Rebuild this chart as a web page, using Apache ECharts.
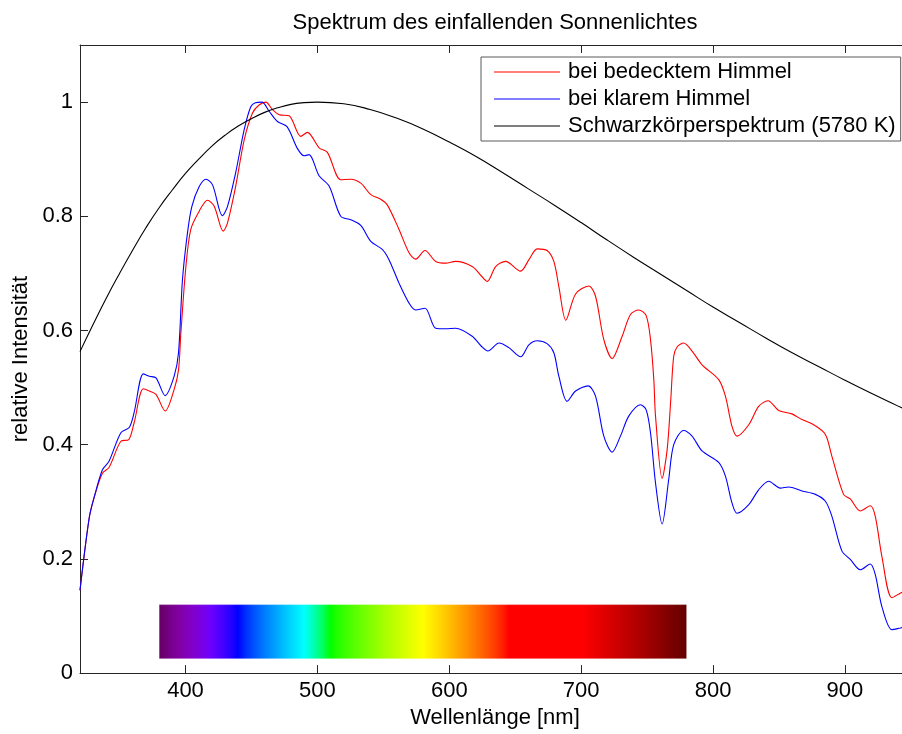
<!DOCTYPE html>
<html>
<head>
<meta charset="utf-8">
<title>Spektrum des einfallenden Sonnenlichtes</title>
<script src="https://cdn.jsdelivr.net/npm/echarts@6/dist/echarts.min.js"></script>
<style>
  html, body { margin: 0; padding: 0; background: #fff; }
  #chart { width: 902px; height: 734px; }
</style>
</head>
<body>
<div id="chart"></div>
<script>
// Wavelengths (nm) and relative intensity, overcast sky
const wlOvercast = [320, 327, 331, 337, 342, 351, 357, 361, 368, 372.5, 377.6, 384.6, 391.4, 394.7, 396.5, 400.3, 404, 410.4, 416.7, 421.7, 428.6, 431.8, 438, 444.5, 450.8, 455.8, 460.9, 465.9, 471, 478.6, 487.4, 492.4, 501.3, 507.6, 517.7, 525.3, 532.9, 540.5, 548, 553, 561.9, 569.5, 574.5, 581.6, 589.7, 597.3, 604.8, 617.4, 624.5, 628.8, 635.2, 642.7, 654.1, 660.4, 666.7, 674.2, 679.3, 683.1, 688.4, 695.8, 705.8, 710.9, 717.2, 723.5, 731.1, 737.4, 743.7, 749.3, 752.6, 755.1, 756.4, 761.4, 765.2, 768, 770.2, 773, 777.7, 784.1, 791.7, 804.3, 809.4, 814.4, 818.2, 827.1, 834.6, 841.7, 849.8, 859.8, 867.4, 876.3, 885.2, 890.1, 899, 904.1, 911.7, 919.2, 923, 928, 935.6, 942, 944];
const valOvercast = [0.145, 0.272, 0.31, 0.35, 0.36, 0.406, 0.409, 0.438, 0.498, 0.494, 0.488, 0.459, 0.497, 0.531, 0.596, 0.712, 0.777, 0.809, 0.828, 0.818, 0.774, 0.788, 0.852, 0.934, 0.981, 0.995, 1.0, 0.987, 0.978, 0.976, 0.94, 0.947, 0.92, 0.912, 0.864, 0.865, 0.858, 0.838, 0.83, 0.82, 0.777, 0.736, 0.725, 0.74, 0.721, 0.718, 0.721, 0.712, 0.695, 0.686, 0.712, 0.721, 0.704, 0.724, 0.743, 0.74, 0.721, 0.677, 0.618, 0.664, 0.678, 0.66, 0.584, 0.551, 0.59, 0.628, 0.636, 0.626, 0.584, 0.514, 0.45, 0.341, 0.391, 0.48, 0.555, 0.572, 0.578, 0.564, 0.54, 0.514, 0.485, 0.432, 0.415, 0.435, 0.467, 0.477, 0.46, 0.454, 0.444, 0.435, 0.418, 0.38, 0.313, 0.305, 0.284, 0.293, 0.275, 0.205, 0.132, 0.14, 0.142];

// Wavelengths (nm) and relative intensity, clear sky
const wlClear = [320, 327, 331, 337, 342, 351, 357.3, 361, 368, 372.5, 377.6, 384.6, 391.4, 394.7, 397.7, 401.5, 404.8, 410.4, 415.5, 420.5, 428, 431.8, 438, 444.5, 449.5, 453, 458, 463.4, 469.7, 477, 484.8, 490, 493.7, 501.3, 508.9, 517.7, 525.3, 532.9, 540.5, 549.2, 554.3, 561.9, 569.5, 574.5, 581.6, 589.7, 597.3, 604.8, 617.4, 624.5, 629.3, 637.7, 645.2, 654.1, 660.4, 666.7, 674.2, 679.3, 683.1, 689.4, 695.8, 705.3, 710.9, 717.2, 723.5, 729.8, 736.1, 745, 749.3, 752.6, 756.4, 761.4, 766.4, 770.2, 777.7, 784.1, 791.7, 804.3, 809.4, 814.4, 818.2, 827.1, 834.6, 842.2, 851, 857.3, 867.4, 877.6, 885.2, 890.1, 897.7, 904.1, 911.7, 919.2, 923, 928, 935.6, 942, 944];
const valClear = [0.145, 0.272, 0.31, 0.356, 0.371, 0.421, 0.43, 0.456, 0.524, 0.52, 0.517, 0.486, 0.52, 0.561, 0.689, 0.771, 0.817, 0.852, 0.865, 0.855, 0.801, 0.817, 0.876, 0.952, 0.992, 0.999, 1.0, 0.984, 0.966, 0.957, 0.919, 0.906, 0.908, 0.871, 0.853, 0.8, 0.794, 0.784, 0.756, 0.742, 0.724, 0.683, 0.648, 0.636, 0.639, 0.604, 0.603, 0.604, 0.59, 0.572, 0.564, 0.578, 0.57, 0.554, 0.575, 0.582, 0.577, 0.561, 0.52, 0.476, 0.494, 0.503, 0.485, 0.415, 0.387, 0.415, 0.45, 0.47, 0.461, 0.421, 0.333, 0.261, 0.339, 0.4, 0.425, 0.415, 0.389, 0.369, 0.345, 0.298, 0.28, 0.295, 0.321, 0.336, 0.324, 0.326, 0.319, 0.313, 0.301, 0.275, 0.214, 0.199, 0.181, 0.191, 0.173, 0.117, 0.076, 0.079, 0.08];

// Black-body spectrum at 5780 K, normalised to its maximum
const wlBlackbody = [320, 330, 340, 350, 360, 370, 380, 390, 400, 410, 420, 430, 440, 450, 460, 470, 480, 490, 500, 520, 540, 560, 580, 600, 620, 640, 660, 680, 700, 720, 740, 760, 780, 800, 820, 840, 860, 880, 900, 920, 940, 950];
const valBlackbody = [0.563, 0.611, 0.657, 0.700, 0.741, 0.780, 0.815, 0.846, 0.875, 0.900, 0.923, 0.942, 0.958, 0.971, 0.982, 0.990, 0.996, 0.999, 1.0, 0.997, 0.987, 0.972, 0.953, 0.930, 0.905, 0.877, 0.848, 0.819, 0.789, 0.758, 0.728, 0.699, 0.670, 0.641, 0.614, 0.587, 0.561, 0.537, 0.513, 0.490, 0.468, 0.457];

// Visible band drawn as a colour strip: [from nm, to nm, lower, upper]
const visibleBand = [[380, 780, 0.025, 0.12]];

const xTicks = [400, 500, 600, 700, 800, 900];
const yTicks = [0, 0.2, 0.4, 0.6, 0.8, 1];
const yTickLabels = ['0', '0.2', '0.4', '0.6', '0.8', '1'];

const seriesNames = ['bei bedecktem Himmel', 'bei klarem Himmel', 'Schwarzkörperspektrum (5780 K)'];
const seriesColors = ['#ff0000', '#0000ff', '#000000'];

function zip(xs, ys) { return xs.map((x, i) => [x, ys[i]]); }

// Approximate RGB for a visible wavelength (nm)
function wavelengthColor(w) {
  let r = 0, g = 0, b = 0;
  if (w < 440) { r = -(w - 440) / 60; b = 1; }
  else if (w < 490) { g = (w - 440) / 50; b = 1; }
  else if (w < 510) { g = 1; b = -(w - 510) / 20; }
  else if (w < 580) { r = (w - 510) / 70; g = 1; }
  else if (w < 645) { r = 1; g = -(w - 645) / 65; }
  else { r = 1; }
  let f = 1;
  if (w < 420) f = 0.3 + 0.7 * (w - 380) / 40;
  else if (w > 700) f = 0.3 + 0.7 * (780 - w) / 80;
  const c = v => v <= 0 ? 0 : Math.round(255 * Math.pow(v * f, 0.8));
  return 'rgb(' + c(r) + ',' + c(g) + ',' + c(b) + ')';
}

const bandStops = [];
for (let w = 380; w <= 780; w += 5) {
  bandStops.push({ offset: (w - 380) / 400, color: wavelengthColor(w) });
}

const FONT = "'Liberation Sans', Arial, Helvetica, sans-serif";
const AXIS_COLOR = '#262626';

const chart = echarts.init(document.getElementById('chart'), null, { renderer: 'canvas' });

// The plotted window runs past the right edge of the canvas
const xCommon = {
  type: 'value',
  min: 320,
  max: 943.3,
  splitLine: { show: false },
  axisLine: { show: true, onZero: false, lineStyle: { color: AXIS_COLOR, width: 1 } },
  axisTick: { show: true, inside: true, length: 8, customValues: xTicks, lineStyle: { color: AXIS_COLOR } }
};

function lineSeries(i, xs, ys, smooth) {
  return {
    name: seriesNames[i],
    type: 'line',
    data: zip(xs, ys),
    symbol: 'none',
    smooth: smooth,
    color: seriesColors[i],
    lineStyle: { color: seriesColors[i], width: 1.1 },
    z: 3
  };
}

chart.setOption({
  animation: false,
  backgroundColor: '#ffffff',
  textStyle: { fontFamily: FONT },
  title: {
    text: 'Spektrum des einfallenden Sonnenlichtes',
    left: 490,
    top: 7,
    textAlign: 'center',
    textStyle: { fontFamily: FONT, fontSize: 22, fontWeight: 'normal', color: '#000', lineHeight: 22 }
  },
  legend: {
    data: seriesNames.map((n, i) => ({ name: n, icon: 'rect', itemStyle: { color: seriesColors[i] } })),
    orient: 'vertical',
    left: 481,
    top: 57,
    padding: [4, 5, 4, 13],
    itemWidth: 66,
    itemHeight: 1,
    itemGap: 5,
    borderColor: '#5a5a5a',
    borderWidth: 1,
    backgroundColor: '#ffffff',
    selectedMode: false,
    textStyle: { fontFamily: FONT, fontSize: 22, color: '#000', lineHeight: 22, padding: [0, 0, 0, 3] }
  },
  grid: { left: 80, top: 45, bottom: 60, right: 0, containLabel: false },
  xAxis: [
    Object.assign({}, xCommon, {
      position: 'bottom',
      name: 'Wellenlänge [nm]',
      nameLocation: 'middle',
      nameGap: 32,
      nameTextStyle: { fontFamily: FONT, fontSize: 22, color: '#000', lineHeight: 22, padding: [0, 0, 0, 8] },
      axisLabel: {
        show: true, margin: 7, customValues: xTicks,
        fontFamily: FONT, fontSize: 22, color: '#000'
      }
    }),
    Object.assign({}, xCommon, {
      position: 'top',
      axisLabel: { show: false }
    })
  ],
  yAxis: {
    type: 'value',
    min: 0,
    max: 1.1,
    splitLine: { show: false },
    name: 'relative Intensität',
    nameLocation: 'middle',
    nameGap: 43,
    nameTextStyle: { fontFamily: FONT, fontSize: 22, color: '#000', lineHeight: 22 },
    axisLine: { show: true, onZero: false, lineStyle: { color: AXIS_COLOR, width: 1 } },
    axisTick: { show: true, inside: true, length: 8, customValues: yTicks, lineStyle: { color: AXIS_COLOR } },
    axisLabel: {
      show: true, margin: 7, customValues: yTicks,
      fontFamily: FONT, fontSize: 22, color: '#000',
      formatter: v => yTickLabels[yTicks.findIndex(t => Math.abs(t - v) < 1e-9)] ?? String(v)
    }
  },
  series: [
    lineSeries(0, wlOvercast, valOvercast, 0.3),
    lineSeries(1, wlClear, valClear, 0.3),
    lineSeries(2, wlBlackbody, valBlackbody, 0.5),
    {
      type: 'custom',
      data: visibleBand,
      encode: { x: [0, 1], y: [2, 3] },
      z: 2,
      silent: true,
      renderItem: function (params, api) {
        const p0 = api.coord([api.value(0), api.value(3)]);
        const p1 = api.coord([api.value(1), api.value(2)]);
        return {
          type: 'rect',
          shape: { x: p0[0], y: p0[1], width: p1[0] - p0[0], height: p1[1] - p0[1] },
          style: {
            fill: new echarts.graphic.LinearGradient(0, 0, 1, 0, bandStops),
            stroke: 'rgba(255,255,255,0.35)',
            lineWidth: 1
          }
        };
      }
    }
  ]
});
</script>
</body>
</html>
